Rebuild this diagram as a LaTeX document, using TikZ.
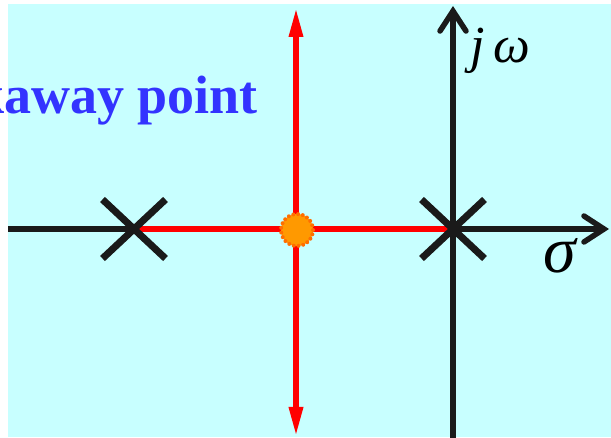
\documentclass[tikz,border=0pt]{standalone}
\usepackage{fontspec}
\setmainfont{Liberation Serif}
\usetikzlibrary{arrows.meta,shapes.misc}
\definecolor{bgcyan}{RGB}{200,255,255}
\definecolor{axisblack}{RGB}{26,26,26}
\definecolor{txtblue}{RGB}{51,51,255}
\definecolor{dotorange}{RGB}{255,153,0}
\definecolor{dotedge}{RGB}{255,110,0}
\tikzset{
  axisline/.style={draw=axisblack, line width=5.5pt, -{Straight Barb[length=20pt,width=26pt,line cap=round]}},
  locus/.style={draw=red, line width=6pt},
  locusarrow/.style={locus, {Triangle[width=13pt,length=30pt]}-{Triangle[width=13pt,length=30pt]}},
  polemark/.style={cross out, draw=axisblack, line width=7pt, minimum width=56pt, minimum height=52pt, inner sep=0pt},
  breakdot/.style={circle, fill=dotorange, draw=dotedge, line width=4pt, dash pattern=on 0pt off 4.8pt, line cap=round, minimum size=32pt, inner sep=0pt},
  axislabel/.style={inner sep=0pt, text=black},
}
\begin{document}
\begin{tikzpicture}[x=1pt,y=-1pt]
\useasboundingbox (0,0) rectangle (611,438);
\fill[bgcyan] (8,4) rectangle (611,437);
% axes
\coordinate (hstart) at (8,229);
\coordinate (hend) at (609,229);
\coordinate (vstart) at (453,438);
\coordinate (vend) at (453,6);
\draw[axisline] (hstart) -- (hend);
\draw[axisline] (vstart) -- (vend);
% root locus
\coordinate (rtop) at (296,7);
\coordinate (rbot) at (296,437);
\draw[locusarrow] (rbot) -- (rtop);
\coordinate (p1) at (134,229);
\coordinate (p2) at (453,229);
\draw[locus] (p1) -- (p2);
% poles
\node[polemark] (pole1) at (p1) {};
\node[polemark] (pole2) at (p2) {};
% breakaway point
\node[breakdot] (bp) at (297,230) {};
% labels
\node[axislabel, anchor=base west, font=\fontsize{52}{52}\selectfont\itshape] (jw) at (470,63) {j\hspace{9pt}ω};
\node[axislabel, anchor=base west, font=\fontsize{66}{66}\selectfont\itshape] (sig) at (543,273) {σ};
\node[inner sep=0pt, anchor=base east, text=txtblue, font=\fontsize{54}{54}\selectfont\bfseries] (title) at (258,114) {kaway point};
\end{tikzpicture}
\end{document}
